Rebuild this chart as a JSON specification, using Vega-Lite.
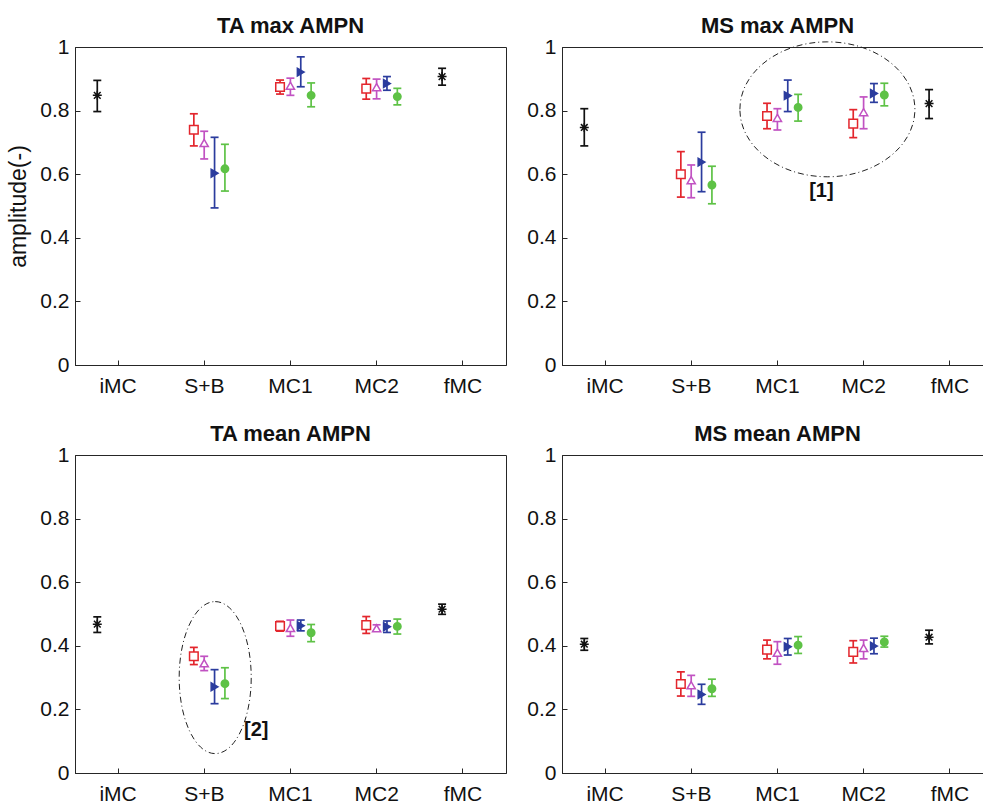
{
  "$schema": "https://vega.github.io/schema/vega-lite/v6.json",
  "background": "white",
  "padding": {"left": 7, "top": 14, "right": 0, "bottom": 0},
  "bounds": "flush",
  "columns": 2,
  "spacing": {"row": 90, "column": 56},
  "datasets": {
    "tamax": [
      {"cat": "iMC", "s": "ref", "m": 0.848, "lo": 0.797, "hi": 0.895},
      {"cat": "S+B", "s": "c1", "m": 0.740, "lo": 0.689, "hi": 0.790},
      {"cat": "S+B", "s": "c2", "m": 0.698, "lo": 0.648, "hi": 0.735},
      {"cat": "S+B", "s": "c3", "m": 0.603, "lo": 0.494, "hi": 0.716},
      {"cat": "S+B", "s": "c4", "m": 0.617, "lo": 0.547, "hi": 0.694},
      {"cat": "MC1", "s": "c1", "m": 0.874, "lo": 0.852, "hi": 0.896},
      {"cat": "MC1", "s": "c2", "m": 0.878, "lo": 0.848, "hi": 0.902},
      {"cat": "MC1", "s": "c3", "m": 0.921, "lo": 0.875, "hi": 0.969},
      {"cat": "MC1", "s": "c4", "m": 0.848, "lo": 0.812, "hi": 0.887},
      {"cat": "MC2", "s": "c1", "m": 0.869, "lo": 0.836, "hi": 0.901},
      {"cat": "MC2", "s": "c2", "m": 0.874, "lo": 0.837, "hi": 0.899},
      {"cat": "MC2", "s": "c3", "m": 0.885, "lo": 0.864, "hi": 0.907},
      {"cat": "MC2", "s": "c4", "m": 0.844, "lo": 0.818, "hi": 0.870},
      {"cat": "fMC", "s": "ref", "m": 0.907, "lo": 0.880, "hi": 0.933}
    ],
    "msmax": [
      {"cat": "iMC", "s": "ref", "m": 0.747, "lo": 0.689, "hi": 0.806},
      {"cat": "S+B", "s": "c1", "m": 0.600, "lo": 0.528, "hi": 0.671},
      {"cat": "S+B", "s": "c2", "m": 0.581, "lo": 0.526, "hi": 0.629},
      {"cat": "S+B", "s": "c3", "m": 0.638, "lo": 0.545, "hi": 0.732},
      {"cat": "S+B", "s": "c4", "m": 0.566, "lo": 0.507, "hi": 0.625},
      {"cat": "MC1", "s": "c1", "m": 0.783, "lo": 0.743, "hi": 0.823},
      {"cat": "MC1", "s": "c2", "m": 0.777, "lo": 0.739, "hi": 0.806},
      {"cat": "MC1", "s": "c3", "m": 0.847, "lo": 0.797, "hi": 0.896},
      {"cat": "MC1", "s": "c4", "m": 0.810, "lo": 0.767, "hi": 0.851},
      {"cat": "MC2", "s": "c1", "m": 0.759, "lo": 0.715, "hi": 0.803},
      {"cat": "MC2", "s": "c2", "m": 0.795, "lo": 0.743, "hi": 0.843},
      {"cat": "MC2", "s": "c3", "m": 0.854, "lo": 0.826, "hi": 0.885},
      {"cat": "MC2", "s": "c4", "m": 0.849, "lo": 0.815, "hi": 0.886},
      {"cat": "fMC", "s": "ref", "m": 0.822, "lo": 0.775, "hi": 0.866}
    ],
    "tamean": [
      {"cat": "iMC", "s": "ref", "m": 0.468, "lo": 0.442, "hi": 0.491},
      {"cat": "S+B", "s": "c1", "m": 0.367, "lo": 0.341, "hi": 0.395},
      {"cat": "S+B", "s": "c2", "m": 0.345, "lo": 0.322, "hi": 0.367},
      {"cat": "S+B", "s": "c3", "m": 0.271, "lo": 0.218, "hi": 0.325},
      {"cat": "S+B", "s": "c4", "m": 0.281, "lo": 0.234, "hi": 0.331},
      {"cat": "MC1", "s": "c1", "m": 0.462, "lo": 0.446, "hi": 0.477},
      {"cat": "MC1", "s": "c2", "m": 0.456, "lo": 0.430, "hi": 0.481},
      {"cat": "MC1", "s": "c3", "m": 0.463, "lo": 0.447, "hi": 0.481},
      {"cat": "MC1", "s": "c4", "m": 0.441, "lo": 0.413, "hi": 0.467},
      {"cat": "MC2", "s": "c1", "m": 0.465, "lo": 0.439, "hi": 0.492},
      {"cat": "MC2", "s": "c2", "m": 0.455, "lo": 0.446, "hi": 0.466},
      {"cat": "MC2", "s": "c3", "m": 0.460, "lo": 0.442, "hi": 0.478},
      {"cat": "MC2", "s": "c4", "m": 0.461, "lo": 0.437, "hi": 0.484},
      {"cat": "fMC", "s": "ref", "m": 0.515, "lo": 0.499, "hi": 0.531}
    ],
    "msmean": [
      {"cat": "iMC", "s": "ref", "m": 0.405, "lo": 0.386, "hi": 0.423},
      {"cat": "S+B", "s": "c1", "m": 0.280, "lo": 0.242, "hi": 0.318},
      {"cat": "S+B", "s": "c2", "m": 0.276, "lo": 0.241, "hi": 0.307},
      {"cat": "S+B", "s": "c3", "m": 0.247, "lo": 0.216, "hi": 0.279},
      {"cat": "S+B", "s": "c4", "m": 0.265, "lo": 0.241, "hi": 0.295},
      {"cat": "MC1", "s": "c1", "m": 0.388, "lo": 0.359, "hi": 0.418},
      {"cat": "MC1", "s": "c2", "m": 0.378, "lo": 0.342, "hi": 0.413},
      {"cat": "MC1", "s": "c3", "m": 0.397, "lo": 0.371, "hi": 0.423},
      {"cat": "MC1", "s": "c4", "m": 0.402, "lo": 0.376, "hi": 0.429},
      {"cat": "MC2", "s": "c1", "m": 0.381, "lo": 0.346, "hi": 0.416},
      {"cat": "MC2", "s": "c2", "m": 0.393, "lo": 0.359, "hi": 0.418},
      {"cat": "MC2", "s": "c3", "m": 0.399, "lo": 0.375, "hi": 0.424},
      {"cat": "MC2", "s": "c4", "m": 0.412, "lo": 0.396, "hi": 0.430},
      {"cat": "fMC", "s": "ref", "m": 0.427, "lo": 0.406, "hi": 0.449}
    ],
    "ann1": [{"cat": "MC1", "v": 0.804, "label": ""}],
    "lab1": [{"cat": "MC1", "v": 0.548, "label": "[1]"}],
    "ann2": [{"cat": "S+B", "v": 0.30, "label": ""}],
    "lab2": [{"cat": "S+B", "v": 0.134, "label": "[2]"}]
  },
  "concat": [
    {
      "title": "TA max AMPN",
      "width": 431, "height": 318,
      "data": {"name": "tamax"},
      "layer": [
        {"mark": {"type": "rule", "strokeWidth": 1.7},
         "encoding": {
           "x": {"field": "cat", "type": "nominal", "scale": {"domain": ["iMC","S+B","MC1","MC2","fMC"], "paddingInner": 0, "paddingOuter": 0}, "axis": {"title": null, "labelAngle": 0, "labelPadding": 15}},
           "xOffset": {"field": "s", "type": "nominal", "scale": {"domain": ["ref","c1","c2","c3","c4"], "paddingInner": 0, "paddingOuter": 0, "range": [17.1, 68.9]}},
           "y": {"field": "lo", "type": "quantitative", "scale": {"domain": [0, 1], "nice": false, "zero": false}, "axis": {"title": "amplitude(-)", "values": [0,0.2,0.4,0.6,0.8,1], "format": "~g"}},
           "y2": {"field": "hi"},
           "stroke": {"field": "s", "type": "nominal", "scale": {"domain": ["ref","c1","c2","c3","c4"], "range": ["#111111","#e3262d","#c152c2","#2b3c9e","#5ec246"]}, "legend": null}
         }},
        {"mark": {"type": "tick", "size": 8, "thickness": 1.7, "opacity": 1},
         "encoding": {
           "x": {"field": "cat", "type": "nominal"},
           "xOffset": {"field": "s", "type": "nominal"},
           "y": {"field": "lo", "type": "quantitative"},
           "color": {"field": "s", "type": "nominal", "scale": {"domain": ["ref","c1","c2","c3","c4"], "range": ["#111111","#e3262d","#c152c2","#2b3c9e","#5ec246"]}, "legend": null}
         }},
        {"mark": {"type": "tick", "size": 8, "thickness": 1.7, "opacity": 1},
         "encoding": {
           "x": {"field": "cat", "type": "nominal"},
           "xOffset": {"field": "s", "type": "nominal"},
           "y": {"field": "hi", "type": "quantitative"},
           "color": {"field": "s", "type": "nominal", "legend": null}
         }},
        {"mark": {"type": "point", "filled": true, "strokeWidth": 1.5, "opacity": 1},
         "encoding": {
           "x": {"field": "cat", "type": "nominal"},
           "xOffset": {"field": "s", "type": "nominal"},
           "y": {"field": "m", "type": "quantitative"},
           "shape": {"field": "s", "type": "nominal", "scale": {"domain": ["ref","c1","c2","c3","c4"], "range": ["M-1,0L1,0M0,-1L0,1M-0.75,-0.75L0.75,0.75M-0.75,0.75L0.75,-0.75", "square", "triangle-up", "triangle-right", "circle"]}, "legend": null},
           "fill": {"field": "s", "type": "nominal", "scale": {"domain": ["ref","c1","c2","c3","c4"], "range": ["#111111","#ffffff","#ffffff","#2b3c9e","#5ec246"]}, "legend": null},
           "stroke": {"field": "s", "type": "nominal", "legend": null},
           "size": {"field": "s", "type": "nominal", "scale": {"domain": ["ref","c1","c2","c3","c4"], "range": [80, 55, 85, 95, 95]}, "legend": null}
         }}
      ]
    },
    {
      "title": "MS max AMPN",
      "width": 431, "height": 318,
      "data": {"name": "msmax"},
      "layer": [
        {"mark": {"type": "rule", "strokeWidth": 1.7},
         "encoding": {
           "x": {"field": "cat", "type": "nominal", "scale": {"domain": ["iMC","S+B","MC1","MC2","fMC"], "paddingInner": 0, "paddingOuter": 0}, "axis": {"title": null, "labelAngle": 0, "labelPadding": 15}},
           "xOffset": {"field": "s", "type": "nominal", "scale": {"domain": ["ref","c1","c2","c3","c4"], "paddingInner": 0, "paddingOuter": 0, "range": [17.1, 68.9]}},
           "y": {"field": "lo", "type": "quantitative", "scale": {"domain": [0, 1], "nice": false, "zero": false}, "axis": {"title": null, "values": [0,0.2,0.4,0.6,0.8,1], "format": "~g"}},
           "y2": {"field": "hi"},
           "stroke": {"field": "s", "type": "nominal", "scale": {"domain": ["ref","c1","c2","c3","c4"], "range": ["#111111","#e3262d","#c152c2","#2b3c9e","#5ec246"]}, "legend": null}
         }},
        {"mark": {"type": "tick", "size": 8, "thickness": 1.7, "opacity": 1},
         "encoding": {
           "x": {"field": "cat", "type": "nominal"},
           "xOffset": {"field": "s", "type": "nominal"},
           "y": {"field": "lo", "type": "quantitative"},
           "color": {"field": "s", "type": "nominal", "scale": {"domain": ["ref","c1","c2","c3","c4"], "range": ["#111111","#e3262d","#c152c2","#2b3c9e","#5ec246"]}, "legend": null}
         }},
        {"mark": {"type": "tick", "size": 8, "thickness": 1.7, "opacity": 1},
         "encoding": {
           "x": {"field": "cat", "type": "nominal"},
           "xOffset": {"field": "s", "type": "nominal"},
           "y": {"field": "hi", "type": "quantitative"},
           "color": {"field": "s", "type": "nominal", "legend": null}
         }},
        {"mark": {"type": "point", "filled": true, "strokeWidth": 1.5, "opacity": 1},
         "encoding": {
           "x": {"field": "cat", "type": "nominal"},
           "xOffset": {"field": "s", "type": "nominal"},
           "y": {"field": "m", "type": "quantitative"},
           "shape": {"field": "s", "type": "nominal", "scale": {"domain": ["ref","c1","c2","c3","c4"], "range": ["M-1,0L1,0M0,-1L0,1M-0.75,-0.75L0.75,0.75M-0.75,0.75L0.75,-0.75", "square", "triangle-up", "triangle-right", "circle"]}, "legend": null},
           "fill": {"field": "s", "type": "nominal", "scale": {"domain": ["ref","c1","c2","c3","c4"], "range": ["#111111","#ffffff","#ffffff","#2b3c9e","#5ec246"]}, "legend": null},
           "stroke": {"field": "s", "type": "nominal", "legend": null},
           "size": {"field": "s", "type": "nominal", "scale": {"domain": ["ref","c1","c2","c3","c4"], "range": [80, 55, 85, 95, 95]}, "legend": null}
         }},
        {"data": {"name": "ann1"},
         "mark": {"type": "point", "shape": "M-1,0A1,0.771 0 1,1 1,0A1,0.771 0 1,1 -1,0", "size": 30625, "filled": false, "stroke": "#222222", "strokeWidth": 1, "strokeDash": [6, 3, 1, 3], "opacity": 1},
         "encoding": {
           "x": {"field": "cat", "type": "nominal"},
           "xOffset": {"value": 93},
           "y": {"field": "v", "type": "quantitative"}
         }},
        {"data": {"name": "lab1"},
         "mark": {"type": "text", "font": "Liberation Sans", "fontSize": 20, "fontWeight": "bold", "color": "#111111", "baseline": "middle", "align": "center"},
         "encoding": {
           "x": {"field": "cat", "type": "nominal"},
           "xOffset": {"value": 87},
           "y": {"field": "v", "type": "quantitative"},
           "text": {"field": "label"}
         }}
      ]
    },
    {
      "title": "TA mean AMPN",
      "width": 431, "height": 318,
      "data": {"name": "tamean"},
      "layer": [
        {"mark": {"type": "rule", "strokeWidth": 1.7},
         "encoding": {
           "x": {"field": "cat", "type": "nominal", "scale": {"domain": ["iMC","S+B","MC1","MC2","fMC"], "paddingInner": 0, "paddingOuter": 0}, "axis": {"title": null, "labelAngle": 0, "labelPadding": 15}},
           "xOffset": {"field": "s", "type": "nominal", "scale": {"domain": ["ref","c1","c2","c3","c4"], "paddingInner": 0, "paddingOuter": 0, "range": [17.1, 68.9]}},
           "y": {"field": "lo", "type": "quantitative", "scale": {"domain": [0, 1], "nice": false, "zero": false}, "axis": {"title": null, "values": [0,0.2,0.4,0.6,0.8,1], "format": "~g"}},
           "y2": {"field": "hi"},
           "stroke": {"field": "s", "type": "nominal", "scale": {"domain": ["ref","c1","c2","c3","c4"], "range": ["#111111","#e3262d","#c152c2","#2b3c9e","#5ec246"]}, "legend": null}
         }},
        {"mark": {"type": "tick", "size": 8, "thickness": 1.7, "opacity": 1},
         "encoding": {
           "x": {"field": "cat", "type": "nominal"},
           "xOffset": {"field": "s", "type": "nominal"},
           "y": {"field": "lo", "type": "quantitative"},
           "color": {"field": "s", "type": "nominal", "scale": {"domain": ["ref","c1","c2","c3","c4"], "range": ["#111111","#e3262d","#c152c2","#2b3c9e","#5ec246"]}, "legend": null}
         }},
        {"mark": {"type": "tick", "size": 8, "thickness": 1.7, "opacity": 1},
         "encoding": {
           "x": {"field": "cat", "type": "nominal"},
           "xOffset": {"field": "s", "type": "nominal"},
           "y": {"field": "hi", "type": "quantitative"},
           "color": {"field": "s", "type": "nominal", "legend": null}
         }},
        {"mark": {"type": "point", "filled": true, "strokeWidth": 1.5, "opacity": 1},
         "encoding": {
           "x": {"field": "cat", "type": "nominal"},
           "xOffset": {"field": "s", "type": "nominal"},
           "y": {"field": "m", "type": "quantitative"},
           "shape": {"field": "s", "type": "nominal", "scale": {"domain": ["ref","c1","c2","c3","c4"], "range": ["M-1,0L1,0M0,-1L0,1M-0.75,-0.75L0.75,0.75M-0.75,0.75L0.75,-0.75", "square", "triangle-up", "triangle-right", "circle"]}, "legend": null},
           "fill": {"field": "s", "type": "nominal", "scale": {"domain": ["ref","c1","c2","c3","c4"], "range": ["#111111","#ffffff","#ffffff","#2b3c9e","#5ec246"]}, "legend": null},
           "stroke": {"field": "s", "type": "nominal", "legend": null},
           "size": {"field": "s", "type": "nominal", "scale": {"domain": ["ref","c1","c2","c3","c4"], "range": [80, 55, 85, 95, 95]}, "legend": null}
         }},
        {"data": {"name": "ann2"},
         "mark": {"type": "point", "shape": "M0,-1A0.474,1 0 1,1 0,1A0.474,1 0 1,1 0,-1", "size": 23104, "filled": false, "stroke": "#222222", "strokeWidth": 1, "strokeDash": [6, 3, 1, 3], "opacity": 1},
         "encoding": {
           "x": {"field": "cat", "type": "nominal"},
           "xOffset": {"value": 54},
           "y": {"field": "v", "type": "quantitative"}
         }},
        {"data": {"name": "lab2"},
         "mark": {"type": "text", "font": "Liberation Sans", "fontSize": 20, "fontWeight": "bold", "color": "#111111", "baseline": "middle", "align": "center"},
         "encoding": {
           "x": {"field": "cat", "type": "nominal"},
           "xOffset": {"value": 95},
           "y": {"field": "v", "type": "quantitative"},
           "text": {"field": "label"}
         }}
      ]
    },
    {
      "title": "MS mean AMPN",
      "width": 431, "height": 318,
      "data": {"name": "msmean"},
      "layer": [
        {"mark": {"type": "rule", "strokeWidth": 1.7},
         "encoding": {
           "x": {"field": "cat", "type": "nominal", "scale": {"domain": ["iMC","S+B","MC1","MC2","fMC"], "paddingInner": 0, "paddingOuter": 0}, "axis": {"title": null, "labelAngle": 0, "labelPadding": 15}},
           "xOffset": {"field": "s", "type": "nominal", "scale": {"domain": ["ref","c1","c2","c3","c4"], "paddingInner": 0, "paddingOuter": 0, "range": [17.1, 68.9]}},
           "y": {"field": "lo", "type": "quantitative", "scale": {"domain": [0, 1], "nice": false, "zero": false}, "axis": {"title": null, "values": [0,0.2,0.4,0.6,0.8,1], "format": "~g"}},
           "y2": {"field": "hi"},
           "stroke": {"field": "s", "type": "nominal", "scale": {"domain": ["ref","c1","c2","c3","c4"], "range": ["#111111","#e3262d","#c152c2","#2b3c9e","#5ec246"]}, "legend": null}
         }},
        {"mark": {"type": "tick", "size": 8, "thickness": 1.7, "opacity": 1},
         "encoding": {
           "x": {"field": "cat", "type": "nominal"},
           "xOffset": {"field": "s", "type": "nominal"},
           "y": {"field": "lo", "type": "quantitative"},
           "color": {"field": "s", "type": "nominal", "scale": {"domain": ["ref","c1","c2","c3","c4"], "range": ["#111111","#e3262d","#c152c2","#2b3c9e","#5ec246"]}, "legend": null}
         }},
        {"mark": {"type": "tick", "size": 8, "thickness": 1.7, "opacity": 1},
         "encoding": {
           "x": {"field": "cat", "type": "nominal"},
           "xOffset": {"field": "s", "type": "nominal"},
           "y": {"field": "hi", "type": "quantitative"},
           "color": {"field": "s", "type": "nominal", "legend": null}
         }},
        {"mark": {"type": "point", "filled": true, "strokeWidth": 1.5, "opacity": 1},
         "encoding": {
           "x": {"field": "cat", "type": "nominal"},
           "xOffset": {"field": "s", "type": "nominal"},
           "y": {"field": "m", "type": "quantitative"},
           "shape": {"field": "s", "type": "nominal", "scale": {"domain": ["ref","c1","c2","c3","c4"], "range": ["M-1,0L1,0M0,-1L0,1M-0.75,-0.75L0.75,0.75M-0.75,0.75L0.75,-0.75", "square", "triangle-up", "triangle-right", "circle"]}, "legend": null},
           "fill": {"field": "s", "type": "nominal", "scale": {"domain": ["ref","c1","c2","c3","c4"], "range": ["#111111","#ffffff","#ffffff","#2b3c9e","#5ec246"]}, "legend": null},
           "stroke": {"field": "s", "type": "nominal", "legend": null},
           "size": {"field": "s", "type": "nominal", "scale": {"domain": ["ref","c1","c2","c3","c4"], "range": [80, 55, 85, 95, 95]}, "legend": null}
         }}
      ]
    }
  ],
  "config": {
    "font": "Liberation Sans",
    "view": {"stroke": "#262626", "strokeWidth": 1},
    "axis": {
      "labelFont": "Liberation Sans",
      "labelFontSize": 21,
      "labelColor": "#111111",
      "titleFont": "Liberation Sans",
      "titleFontSize": 23,
      "titleFontWeight": "normal",
      "titleColor": "#111111",
      "titlePadding": 9,
      "domainColor": "#262626",
      "tickColor": "#262626",
      "tickSize": -5,
      "grid": false,
      "labelPadding": 11
    },
    "title": {"font": "Liberation Sans", "fontSize": 22, "fontWeight": "bold", "color": "#111111", "anchor": "middle", "offset": -2}
  }
}
